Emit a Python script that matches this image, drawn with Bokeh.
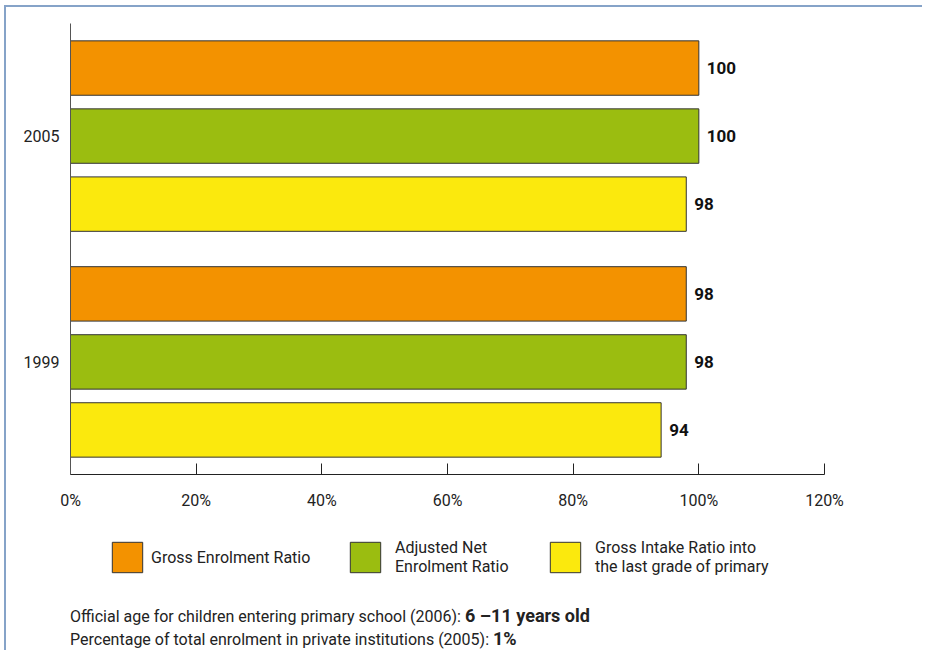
from bokeh.plotting import figure
from bokeh.models import (FactorRange, Range1d, PrintfTickFormatter, FixedTicker,
                          Legend, LegendItem, Div, ColumnDataSource)
from bokeh.layouts import column
from bokeh.core.properties import value
from bokeh.embed import file_html
from bokeh.resources import INLINE

# ---- data ----
years = ["1999", "2005"]
series_keys = ["GIR", "ANER", "GER"]  # bottom-to-top order within a year
legend_keys = ["GER", "ANER", "GIR"]
series_names = {
    "GER": "Gross Enrolment Ratio",
    "ANER": "Adjusted Net\nEnrolment Ratio",
    "GIR": "Gross Intake Ratio into\nthe last grade of primary",
}
ger = [98, 100]    # 1999, 2005
aner = [98, 100]
gir = [94, 98]
x_ticks = [0, 20, 40, 60, 80, 100, 120]

colors = {"GER": "#F39200", "ANER": "#9BBD10", "GIR": "#FBE90D"}
values = {"GER": ger, "ANER": aner, "GIR": gir}

FONT = "Roboto"
TXT = "#222222"

factors = [(y, k) for y in years for k in series_keys]

# ---------------- main chart ----------------
p = figure(width=916, height=515, output_backend="svg", toolbar_location=None,
           x_range=Range1d(0, 120),
           y_range=FactorRange(*factors, group_padding=0.32, factor_padding=0.0,
                               range_padding=0.155, range_padding_units="absolute"),
           min_border_left=64, min_border_right=98, min_border_top=16,
           min_border_bottom=48)

p.outline_line_color = None
p.xgrid.grid_line_color = None
p.ygrid.grid_line_color = None
p.background_fill_color = "white"
p.border_fill_color = "white"

for k in series_keys:
    src = ColumnDataSource(dict(y=[(yr, k) for yr in years], v=values[k],
                                lbl=[str(v) for v in values[k]]))
    p.hbar(y="y", left=0, right="v", height=0.8, source=src,
           fill_color=colors[k], line_color="#333333", line_width=1)
    p.text(x="v", y="y", text="lbl", source=src, x_offset=8,
           text_align="left", text_baseline="middle",
           text_font=value(FONT), text_font_style="bold",
           text_font_size="17px", text_color="#111111")

xa = p.xaxis[0]
xa.ticker = FixedTicker(ticks=x_ticks)
xa.formatter = PrintfTickFormatter(format="%d%%")
xa.major_tick_in = 11
xa.major_tick_out = 0
xa.minor_tick_line_color = None
xa.axis_line_color = "#222222"
xa.major_tick_line_color = "#222222"
xa.major_label_standoff = 16
xa.major_label_text_font = FONT
xa.major_label_text_font_size = "16px"
xa.major_label_text_color = TXT

ya = p.yaxis[0]
ya.major_label_text_font_size = "1px"
ya.major_label_text_alpha = 0
ya.group_text_font = FONT
ya.group_text_font_size = "16px"
ya.group_text_font_style = "normal"
ya.group_text_color = TXT
ya.group_label_orientation = "horizontal"
ya.major_tick_line_color = None
ya.minor_tick_line_color = None
ya.axis_line_color = "#555555"
ya.separator_line_color = None

# ---------------- legend strip ----------------
lg = figure(width=916, height=70, output_backend="svg", toolbar_location=None,
            x_range=Range1d(0, 1), y_range=Range1d(0, 1),
            x_axis_location=None, y_axis_location=None,
            min_border_left=0, min_border_right=0, min_border_top=0, min_border_bottom=0)
lg.grid.visible = False
lg.outline_line_color = None
lg.background_fill_color = "white"
lg.border_fill_color = "white"

# offsets are relative to the (column-aligned) plot frame
legend_x = {"GER": 38, "ANER": 276, "GIR": 476}
legend_standoff = {"GER": 5, "ANER": 11, "GIR": 11}
legend_label_w = {"GER": 170, "ANER": 125, "GIR": 200}
for k in legend_keys:
    # legend swatch proxy, kept outside the visible range of this strip
    r = lg.hbar(y=[-5], left=[0], right=[1], height=0.5,
                fill_color=colors[k], line_color="#333333", line_width=1)
    lg.add_layout(Legend(
        items=[LegendItem(label=series_names[k], renderers=[r])],
        location=(legend_x[k], 16), orientation="horizontal",
        glyph_width=38, glyph_height=38, label_standoff=legend_standoff[k],
        label_width=legend_label_w[k],
        padding=0, margin=0, border_line_alpha=0, background_fill_alpha=0,
        label_text_font=FONT, label_text_font_size="16px", label_text_color=TXT,
        label_text_line_height=1.05,
    ))

notes = Div(
    text=("Official age for children entering primary school (2006): "
          "<b style='font-size:18px'>6 \u201311 years old</b><br>"
          "Percentage of total enrolment in private institutions (2005): "
          "<b style='font-size:18px'>1%</b>"),
    width=916, height=58, margin=0,
    styles={"font-family": FONT, "font-size": "16px", "color": TXT,
            "line-height": "22px", "padding-left": "64px", "padding-top": "13px",
            "background": "white"},
)

layout = column(p, lg, notes, spacing=0, margin=(5, 0, 0, 4),
                styles={"border-left": "2px solid #86A3C8", "border-top": "2px solid #86A3C8"})

open("out.html", "w").write(file_html(layout, INLINE))
